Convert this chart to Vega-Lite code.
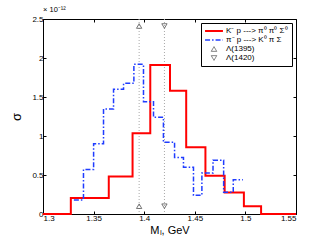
{
  "$schema": "https://vega.github.io/schema/vega-lite/v6.json",
  "width": 253,
  "height": 195,
  "autosize": "none",
  "padding": {"left": 43, "top": 19, "right": 31, "bottom": 32},
  "config": {
    "font": "Liberation Sans",
    "view": {"stroke": "black", "strokeWidth": 1},
    "axis": {"grid": false, "domain": false, "tickColor": "black", "tickSize": -3, "labelFontSize": 8, "labelColor": "black", "titleFontWeight": "normal", "titleColor": "black", "format": "~g"},
    "legend": {"title": null, "orient": "top-right", "offset": 4, "strokeColor": "black", "fillColor": "white", "padding": 4, "labelFontSize": 8, "labelColor": "black", "rowPadding": 1, "symbolOffset": 5, "labelOffset": 8}
  },
  "title": {"text": "× 10⁻¹²", "anchor": "start", "frame": "group", "fontSize": 7.5, "fontWeight": "normal", "offset": 2},
  "datasets": {
    "steps": [
      {"series": "K⁻ p ---> π⁰ π⁰ Σ⁰", "m": 1.300, "sigma": 0},
      {"series": "K⁻ p ---> π⁰ π⁰ Σ⁰", "m": 1.3275, "sigma": 0.205},
      {"series": "K⁻ p ---> π⁰ π⁰ Σ⁰", "m": 1.365, "sigma": 0.48},
      {"series": "K⁻ p ---> π⁰ π⁰ Σ⁰", "m": 1.3885, "sigma": 1.035},
      {"series": "K⁻ p ---> π⁰ π⁰ Σ⁰", "m": 1.406, "sigma": 1.91},
      {"series": "K⁻ p ---> π⁰ π⁰ Σ⁰", "m": 1.4255, "sigma": 1.58},
      {"series": "K⁻ p ---> π⁰ π⁰ Σ⁰", "m": 1.4415, "sigma": 0.855},
      {"series": "K⁻ p ---> π⁰ π⁰ Σ⁰", "m": 1.4605, "sigma": 0.49},
      {"series": "K⁻ p ---> π⁰ π⁰ Σ⁰", "m": 1.4795, "sigma": 0.275},
      {"series": "K⁻ p ---> π⁰ π⁰ Σ⁰", "m": 1.4985, "sigma": 0.1},
      {"series": "K⁻ p ---> π⁰ π⁰ Σ⁰", "m": 1.5155, "sigma": 0},
      {"series": "K⁻ p ---> π⁰ π⁰ Σ⁰", "m": 1.550, "sigma": 0},
      {"series": "π⁻ p ---> K⁰ π Σ", "m": 1.3305, "sigma": 0.18},
      {"series": "π⁻ p ---> K⁰ π Σ", "m": 1.3400, "sigma": 0.57},
      {"series": "π⁻ p ---> K⁰ π Σ", "m": 1.3500, "sigma": 0.90},
      {"series": "π⁻ p ---> K⁰ π Σ", "m": 1.3598, "sigma": 1.345},
      {"series": "π⁻ p ---> K⁰ π Σ", "m": 1.3697, "sigma": 1.60},
      {"series": "π⁻ p ---> K⁰ π Σ", "m": 1.3796, "sigma": 1.675},
      {"series": "π⁻ p ---> K⁰ π Σ", "m": 1.3898, "sigma": 1.92},
      {"series": "π⁻ p ---> K⁰ π Σ", "m": 1.3993, "sigma": 1.44},
      {"series": "π⁻ p ---> K⁰ π Σ", "m": 1.4092, "sigma": 1.24},
      {"series": "π⁻ p ---> K⁰ π Σ", "m": 1.4190, "sigma": 0.92},
      {"series": "π⁻ p ---> K⁰ π Σ", "m": 1.4300, "sigma": 0.725},
      {"series": "π⁻ p ---> K⁰ π Σ", "m": 1.4388, "sigma": 0.60},
      {"series": "π⁻ p ---> K⁰ π Σ", "m": 1.4487, "sigma": 0.24},
      {"series": "π⁻ p ---> K⁰ π Σ", "m": 1.4570, "sigma": 0.525},
      {"series": "π⁻ p ---> K⁰ π Σ", "m": 1.4680, "sigma": 0.69},
      {"series": "π⁻ p ---> K⁰ π Σ", "m": 1.4785, "sigma": 0.28},
      {"series": "π⁻ p ---> K⁰ π Σ", "m": 1.4880, "sigma": 0.44},
      {"series": "π⁻ p ---> K⁰ π Σ", "m": 1.4975, "sigma": 0.44}
    ],
    "lambdas": [
      {"series": "Λ(1395)", "m": 1.395, "sigma": 0.1},
      {"series": "Λ(1395)", "m": 1.395, "sigma": 2.41},
      {"series": "Λ(1420)", "m": 1.42, "sigma": 0.1},
      {"series": "Λ(1420)", "m": 1.42, "sigma": 2.41}
    ],
    "vlines": [
      {"m": 1.395},
      {"m": 1.42}
    ]
  },
  "layer": [
    {
      "data": {"name": "vlines"},
      "mark": {"type": "rule", "color": "#a8a8a8", "strokeDash": [1, 2], "strokeWidth": 1},
      "encoding": {
        "x": {"field": "m", "type": "quantitative", "scale": {"domain": [1.3, 1.55], "nice": false, "zero": false}, "axis": null}
      }
    },
    {
      "data": {"name": "steps"},
      "mark": {"type": "line", "interpolate": "step-after"},
      "encoding": {
        "x": {"field": "m", "type": "quantitative", "scale": {"domain": [1.3, 1.55], "nice": false, "zero": false},
              "axis": {"values": [1.3, 1.35, 1.4, 1.45, 1.5, 1.55], "title": "Mₗ, GeV", "titleFontSize": 11, "titlePadding": 2, "labelPadding": 3}},
        "y": {"field": "sigma", "type": "quantitative", "scale": {"domain": [0, 2.5], "nice": false},
              "axis": {"values": [0, 0.5, 1, 1.5, 2, 2.5], "title": "σ", "titleFontSize": 13, "titlePadding": 8, "labelPadding": 3}},
        "color": {"field": "series", "type": "nominal",
                  "scale": {"domain": ["K⁻ p ---> π⁰ π⁰ Σ⁰", "π⁻ p ---> K⁰ π Σ", "Λ(1395)", "Λ(1420)"], "range": ["#ff0000", "#1f3cff", "#555555", "#555555"]},
                  "legend": {"encode": {"symbols": {"update": {
                    "size": {"signal": "indexof(['Λ(1395)','Λ(1420)'], datum.value) >= 0 ? 30 : 320"},
                    "strokeWidth": {"signal": "datum.value == 'K⁻ p ---> π⁰ π⁰ Σ⁰' ? 2 : datum.value == 'π⁻ p ---> K⁰ π Σ' ? 1.5 : 0.8"}
                  }}}}},
        "strokeDash": {"field": "series", "type": "nominal",
                  "scale": {"domain": ["K⁻ p ---> π⁰ π⁰ Σ⁰", "π⁻ p ---> K⁰ π Σ", "Λ(1395)", "Λ(1420)"], "range": [[1, 0], [5, 2, 1.5, 2], [1, 0], [1, 0]]}},
        "strokeWidth": {"field": "series", "type": "nominal", "legend": null,
                  "scale": {"domain": ["K⁻ p ---> π⁰ π⁰ Σ⁰", "π⁻ p ---> K⁰ π Σ"], "range": [2, 1.5]}}
      }
    },
    {
      "data": {"name": "lambdas"},
      "mark": {"type": "point", "filled": false, "size": 28, "strokeWidth": 0.8, "opacity": 1},
      "encoding": {
        "x": {"field": "m", "type": "quantitative", "scale": {"domain": [1.3, 1.55], "nice": false, "zero": false},
              "axis": {"orient": "top", "values": [1.3, 1.35, 1.4, 1.45, 1.5, 1.55], "labels": false, "title": null}},
        "y": {"field": "sigma", "type": "quantitative", "scale": {"domain": [0, 2.5], "nice": false},
              "axis": {"orient": "right", "values": [0, 0.5, 1, 1.5, 2, 2.5], "labels": false, "title": null}},
        "color": {"field": "series", "type": "nominal",
                  "scale": {"domain": ["K⁻ p ---> π⁰ π⁰ Σ⁰", "π⁻ p ---> K⁰ π Σ", "Λ(1395)", "Λ(1420)"], "range": ["#ff0000", "#1f3cff", "#555555", "#555555"]}},
        "shape": {"field": "series", "type": "nominal",
                  "scale": {"domain": ["K⁻ p ---> π⁰ π⁰ Σ⁰", "π⁻ p ---> K⁰ π Σ", "Λ(1395)", "Λ(1420)"], "range": ["stroke", "stroke", "triangle-up", "triangle-down"]}}
      }
    }
  ],
  "resolve": {"axis": {"x": "independent", "y": "independent"}}
}
